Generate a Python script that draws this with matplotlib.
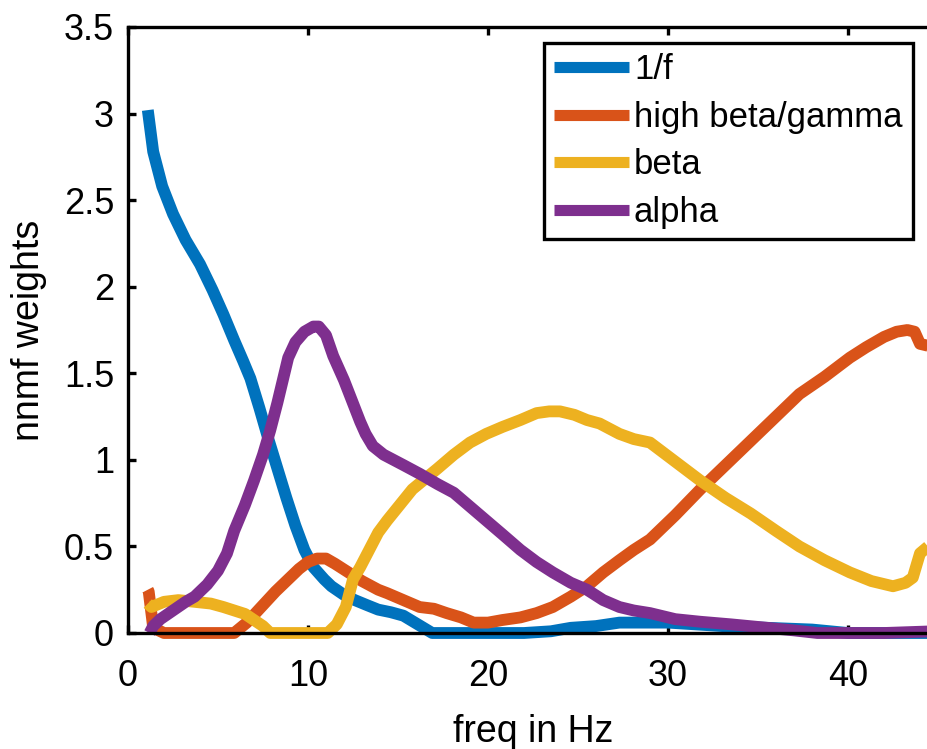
import matplotlib
matplotlib.use("Agg")
import matplotlib.pyplot as plt

plt.rcParams['font.family'] = ['Liberation Sans', 'DejaVu Sans']

# nnmf-Komponenten: Frequenz (Hz) und Gewichte
f_1f = [1.1, 1.4, 1.9, 2.5, 3.2, 4.0, 4.7, 5.3, 5.9, 6.4, 6.8, 7.3, 7.8, 8.3, 8.8,
        9.3, 9.8, 10.3, 10.9, 11.3, 12.0, 12.6, 13.3, 13.9, 14.6, 15.3, 16.1, 16.9,
        18.0, 20.0, 22.0, 23.5, 24.6, 26.0, 27.3, 28.5, 30.0, 31.5, 33.0, 35.5,
        38.0, 40.0, 42.0, 44.8]
w_1f = [3.02, 2.78, 2.58, 2.42, 2.27, 2.13, 1.98, 1.84, 1.69, 1.57, 1.47, 1.30,
        1.12, 0.95, 0.78, 0.62, 0.48, 0.38, 0.31, 0.27, 0.22, 0.19, 0.16, 0.135,
        0.12, 0.10, 0.05, 0.0, 0.0, 0.0, 0.0, 0.01, 0.03, 0.04, 0.06, 0.06, 0.06,
        0.05, 0.04, 0.03, 0.02, 0.0, 0.0, 0.0]

f_gamma = [1.1, 1.15, 1.4, 2.0, 3.0, 4.0, 5.0, 5.9, 6.6, 7.4, 8.2, 8.9, 9.5, 10.0,
           10.5, 11.0, 11.5, 12.1, 13.0, 13.9, 14.4, 15.3, 16.2, 17.0, 17.7, 18.5,
           19.2, 20.0, 20.8, 21.8, 22.7, 23.6, 24.6, 25.5, 26.4, 27.3, 28.1, 29.0,
           30.4, 31.8, 33.2, 34.6, 36.0, 37.3, 38.7, 40.1, 41.0, 42.0, 42.7, 43.3,
           43.7, 44.0, 44.8]
w_gamma = [0.25, 0.24, 0.03, 0.0, 0.0, 0.0, 0.0, 0.0, 0.06, 0.15, 0.24, 0.31, 0.37,
           0.41, 0.43, 0.43, 0.40, 0.36, 0.30, 0.25, 0.23, 0.19, 0.15, 0.14, 0.115,
           0.09, 0.06, 0.06, 0.075, 0.09, 0.115, 0.15, 0.21, 0.27, 0.35, 0.42, 0.48,
           0.54, 0.68, 0.83, 0.97, 1.11, 1.25, 1.38, 1.48, 1.59, 1.65, 1.71, 1.74,
           1.75, 1.74, 1.67, 1.65]

f_beta = [1.1, 1.3, 2.0, 2.8, 3.7, 4.6, 5.3, 5.9, 6.5, 7.0, 7.5, 7.9, 9.0, 10.0,
          11.1, 11.6, 12.1, 12.5, 12.9, 13.4, 13.9, 14.4, 15.1, 15.8, 16.5, 17.2,
          18.1, 19.0, 19.9, 20.8, 21.8, 22.7, 23.4, 24.0, 24.8, 25.5, 26.2, 27.3,
          28.1, 29.0, 30.4, 31.8, 33.2, 34.6, 36.0, 37.3, 38.7, 40.1, 41.3, 42.5,
          43.2, 43.6, 43.8, 44.0, 44.8]
w_beta = [0.17, 0.15, 0.18, 0.19, 0.18, 0.17, 0.15, 0.13, 0.11, 0.075, 0.04, 0.0,
          0.0, 0.0, 0.0, 0.05, 0.15, 0.31, 0.38, 0.48, 0.58, 0.65, 0.74, 0.83, 0.89,
          0.95, 1.03, 1.10, 1.15, 1.19, 1.23, 1.27, 1.28, 1.28, 1.26, 1.23, 1.21,
          1.15, 1.12, 1.10, 0.99, 0.88, 0.78, 0.69, 0.59, 0.50, 0.42, 0.35, 0.30,
          0.27, 0.29, 0.32, 0.39, 0.46, 0.53]

f_alpha = [1.2, 1.4, 1.8, 2.5, 3.2, 3.7, 4.4, 5.0, 5.5, 5.9, 6.5, 7.0, 7.5, 7.9, 8.3,
           8.6, 8.9, 9.3, 9.8, 10.3, 10.6, 11.0, 11.4, 12.0, 12.9, 13.2, 13.6, 14.2,
           15.3, 16.2, 17.2, 18.1, 19.0, 19.9, 20.8, 21.8, 22.7, 23.6, 24.6, 25.5,
           26.4, 27.3, 28.1, 29.0, 30.4, 31.8, 33.5, 35.5, 37.0, 38.3, 40.0, 42.0,
           44.8]
w_alpha = [0.0, 0.04, 0.08, 0.13, 0.18, 0.21, 0.28, 0.36, 0.46, 0.59, 0.74, 0.88,
           1.03, 1.17, 1.33, 1.46, 1.59, 1.68, 1.74, 1.77, 1.77, 1.72, 1.60, 1.46,
           1.22, 1.15, 1.08, 1.03, 0.97, 0.92, 0.86, 0.81, 0.73, 0.65, 0.57, 0.48,
           0.41, 0.35, 0.29, 0.25, 0.19, 0.15, 0.13, 0.115, 0.08, 0.065, 0.05, 0.03,
           0.015, 0.0, 0.0, 0.0, 0.01]

labels = ['1/f', 'high beta/gamma', 'beta', 'alpha']
colors = ['#0072BD', '#D95319', '#EDB120', '#7E2F8E']

fig = plt.figure(figsize=(9.28, 7.49), dpi=100)
# Achsen ragen rechts etwas über den Bildrand hinaus
ax = fig.add_axes([128 / 928, 116 / 749, 810 / 928, 606 / 749])

serien = [(f_1f, w_1f), (f_gamma, w_gamma), (f_beta, w_beta), (f_alpha, w_alpha)]
for (f, w), lab, c in zip(serien, labels, colors):
    ax.plot(f, w, color=c, lw=8.5, label=lab, clip_on=False,
            solid_capstyle='butt', solid_joinstyle='round')

ax.set_xlim(0, 45)
ax.set_ylim(0, 3.5)
ax.set_xticks([0, 10, 20, 30, 40])
ax.set_yticks([0, 0.5, 1, 1.5, 2, 2.5, 3, 3.5])
ax.set_yticklabels(['0', '0.5', '1', '1.5', '2', '2.5', '3', '3.5'])

for s in ax.spines.values():
    s.set_linewidth(2.4)
ax.tick_params(direction='in', length=6, width=2.4, labelsize=26,
               top=True, right=True)
ax.tick_params(axis='x', pad=19)
ax.tick_params(axis='y', pad=10)

ax.set_xlabel('freq in Hz', fontsize=27, labelpad=14)
ax.set_ylabel('nnmf weights', fontsize=27, labelpad=12)

leg = ax.legend(loc='upper right', bbox_to_anchor=(0.969, 0.974),
                borderaxespad=0, fontsize=25, handlelength=2.15,
                handletextpad=0.15, labelspacing=0.42, borderpad=0.3,
                fancybox=False, framealpha=1)
leg.get_frame().set_edgecolor('black')
leg.get_frame().set_linewidth(2.4)
for h in leg.get_lines():
    h.set_linewidth(8)

fig.savefig('out.png', dpi=100)
